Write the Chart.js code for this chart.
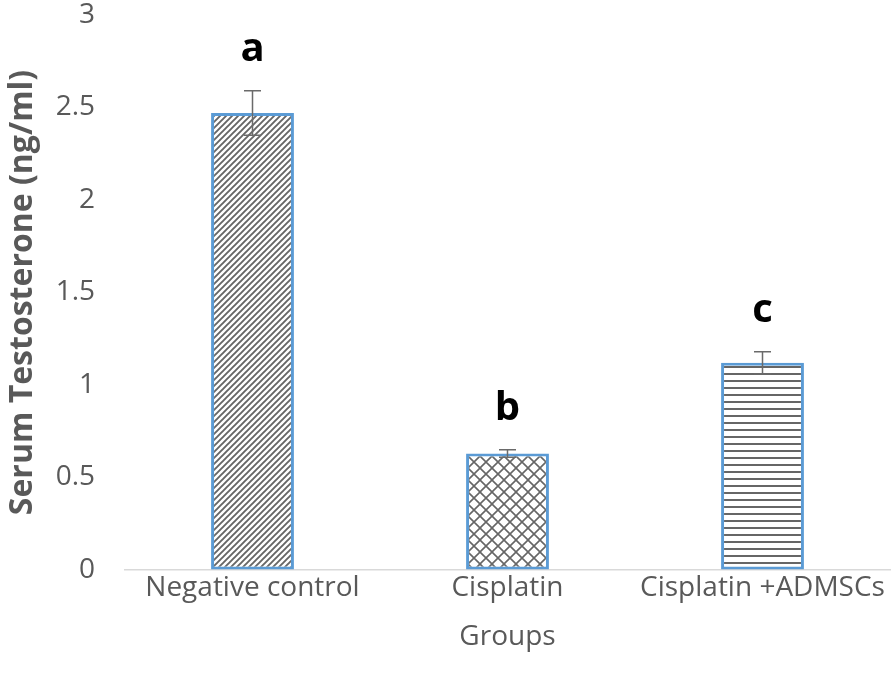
<!DOCTYPE html>
<html>
<head>
<meta charset="utf-8">
<script src="https://cdn.jsdelivr.net/npm/chart.js@4.4.1/dist/chart.umd.min.js"></script>
<style>
  html, body { margin: 0; padding: 0; background: #ffffff; }
  #wrap { width: 896px; height: 689px; }
</style>
</head>
<body>
<div id="wrap"><canvas id="c" width="896" height="689"></canvas></div>
<script>
const categories = ['Negative control', 'Cisplatin', 'Cisplatin +ADMSCs'];
const means = [2.47, 0.63, 1.12];
const errors = [0.12, 0.02, 0.06];
const letters = ['a', 'b', 'c'];
const yTicks = [0, 0.5, 1, 1.5, 2, 2.5, 3];
const patternKinds = ['diagonal', 'cross', 'horizontal'];

function makePattern(kind) {
  const c = document.createElement('canvas');
  const ctx = c.getContext('2d');
  const col = '#666666';
  if (kind === 'diagonal') {
    const s = 6;
    c.width = s; c.height = s;
    ctx.fillStyle = '#fff'; ctx.fillRect(0, 0, s, s);
    ctx.strokeStyle = col; ctx.lineWidth = 1.9;
    ctx.beginPath();
    ctx.moveTo(-1, s + 1); ctx.lineTo(s + 1, -1);
    ctx.moveTo(-1, 1); ctx.lineTo(1, -1);
    ctx.moveTo(s - 1, s + 1); ctx.lineTo(s + 1, s - 1);
    ctx.stroke();
  } else if (kind === 'cross') {
    const s = 12;
    c.width = s; c.height = s;
    ctx.fillStyle = '#fff'; ctx.fillRect(0, 0, s, s);
    ctx.strokeStyle = col; ctx.lineWidth = 1.6;
    ctx.beginPath();
    ctx.moveTo(-1, s + 1); ctx.lineTo(s + 1, -1);
    ctx.moveTo(-1, -1); ctx.lineTo(s + 1, s + 1);
    ctx.stroke();
  } else {
    const s = 7;
    c.width = s; c.height = s;
    ctx.fillStyle = '#fff'; ctx.fillRect(0, 0, s, s);
    ctx.fillStyle = col; ctx.fillRect(0, 2, s, 2);
  }
  return c.getContext('2d').createPattern(c, 'repeat');
}

const errorLetterPlugin = {
  id: 'errorLetters',
  afterDatasetsDraw(chart) {
    const ctx = chart.ctx;
    const x = chart.scales.x, y = chart.scales.y;
    ctx.save();
    means.forEach((m, i) => {
      const cx = x.getPixelForValue(i);
      const top = y.getPixelForValue(m + errors[i]);
      const bot = y.getPixelForValue(m - errors[i]);
      ctx.strokeStyle = '#6a6a6a';
      ctx.lineWidth = 1.5;
      ctx.beginPath();
      ctx.moveTo(cx, top); ctx.lineTo(cx, bot);
      ctx.moveTo(cx - 8.5, top); ctx.lineTo(cx + 8.5, top);
      ctx.moveTo(cx - 8.5, bot); ctx.lineTo(cx + 8.5, bot);
      ctx.stroke();
      ctx.fillStyle = '#000';
      ctx.font = 'bold 40px "Open Sans", sans-serif';
      ctx.textAlign = 'center';
      ctx.textBaseline = 'alphabetic';
      ctx.fillText(letters[i], cx, top - 30);
    });
    ctx.restore();
  }
};

new Chart(document.getElementById('c'), {
  type: 'bar',
  data: {
    labels: categories,
    datasets: [{
      data: means,
      backgroundColor: patternKinds.map(makePattern),
      borderColor: '#5B9BD5',
      borderWidth: 3,
      borderSkipped: false,
      categoryPercentage: 1,
      barPercentage: 0.325
    }]
  },
  options: {
    responsive: false,
    animation: false,
    layout: { padding: { top: 0, right: 6, left: 0, bottom: 0 } },
    plugins: { legend: { display: false }, tooltip: { enabled: false } },
    scales: {
      x: {
        grid: { display: false },
        border: { display: true, color: '#d9d9d9', width: 1.5 },
        afterFit(scale) { scale.height = 119; },
        ticks: { color: '#595959', font: { family: '"Open Sans", sans-serif', size: 28 }, padding: -7, maxRotation: 0, autoSkip: false },
        title: { display: true, text: 'Groups', color: '#595959', font: { family: '"Open Sans", sans-serif', size: 28 }, padding: { top: 0, bottom: 35 } }
      },
      y: {
        min: 0, max: 3,
        afterBuildTicks(scale) { scale.ticks = yTicks.map(v => ({ value: v })); },
        afterFit(scale) { scale.width = 125; },
        grid: { display: true, drawOnChartArea: false, drawTicks: true, tickLength: 30, color: 'rgba(0,0,0,0)' },
        border: { display: false },
        ticks: { color: '#595959', font: { family: '"Open Sans", sans-serif', size: 28, lineHeight: 1.07 }, padding: 0, callback: v => String(v) },
        title: { display: true, text: 'Serum Testosterone (ng/ml)', color: '#595959', font: { family: '"Open Sans", sans-serif', size: 32, weight: 'bold' }, padding: { top: 4, bottom: 0 } }
      }
    }
  },
  plugins: [errorLetterPlugin]
});
</script>
</body>
</html>
